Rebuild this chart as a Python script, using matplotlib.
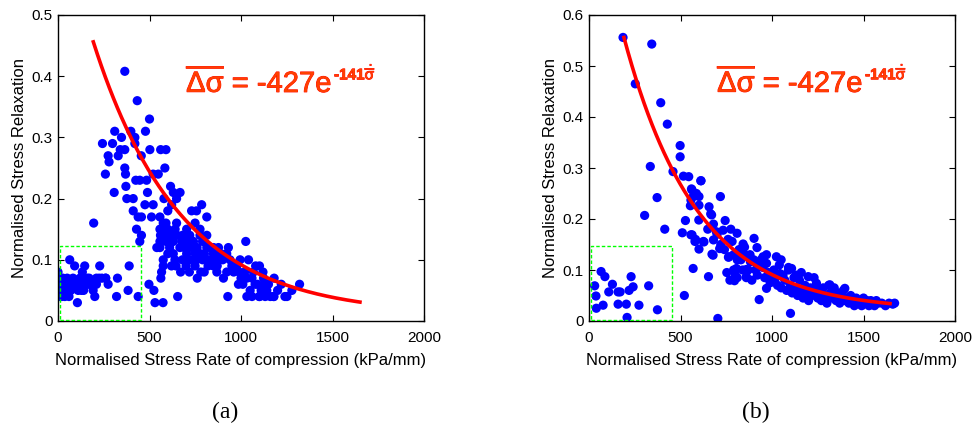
import matplotlib
matplotlib.use("Agg")
import matplotlib.pyplot as plt
import matplotlib.patheffects as pe
import numpy as np
from matplotlib.patches import Rectangle

plt.rcParams['font.family'] = ['Liberation Sans', 'DejaVu Sans']
plt.rcParams['mathtext.fontset'] = 'custom'
plt.rcParams['mathtext.rm'] = 'Liberation Sans'
plt.rcParams['mathtext.it'] = 'Liberation Sans'
plt.rcParams['mathtext.bf'] = 'Liberation Sans:bold'

# ---- panel (a) scatter ----
a_x = [365, 433, 500, 310, 398, 478, 243, 298, 420, 347, 420, 365, 340, 455, 274, 329, 279,
       502, 561, 590, 365, 369, 259, 584, 520, 548, 425, 447, 484, 371, 615, 307, 489, 630,
       667, 376, 411, 579, 648, 411, 475, 520, 621, 785, 438, 456, 511, 730, 757, 813, 195,
       557, 575, 648, 749, 429, 557, 593, 703, 776, 456, 621, 776, 813, 447, 557, 630, 676,
       703, 1026, 557, 666, 730, 813, 877, 931, 540, 630, 703, 776, 849, 922, 575, 639, 757,
       822, 995, 1041, 64, 575, 645, 749, 849, 977, 1101, 91, 146, 228, 389, 566, 718, 799,
       868, 922, 1068, 0, 133, 562, 761, 904, 1032, 1123, 1181, 325, 27, 82, 159, 225, 261,
       18, 55, 119, 173, 210, 274, 986, 1077, 1220, 1320, 497, 9, 46, 110, 192, 128, 524,
       1050, 1141, 1278, 9, 37, 201, 320, 383, 438, 654, 928, 1032, 1101, 1132, 1178, 1251,
       106, 530, 574,
       600, 610, 650, 690, 720, 740, 760, 790, 800, 830, 860, 880, 900, 950, 960, 1000, 1010,
       1060, 1090, 1110, 1150, 1160, 1200, 680, 700, 780, 820, 870, 720, 610, 640, 590, 580,
       600, 620, 670, 590, 560, 600, 680, 750, 790, 850, 890, 940, 990, 1020, 1080, 1120,
       1130, 1180, 1240, 1060, 1100,
       30, 50, 70, 100, 120, 150, 170, 190, 210, 240, 260, 20, 40, 60, 80, 140, 160]
a_y = [.408, .36, .33, .31, .31, .31, .29, .29, .30, .30, .29, .28, .28, .27, .27, .27, .26,
       .28, .28, .28, .25, .24, .24, .25, .24, .24, .23, .23, .23, .22, .22, .21, .21, .21,
       .21, .20, .20, .20, .20, .18, .19, .19, .19, .19, .17, .17, .17, .18, .18, .17, .16,
       .17, .16, .16, .16, .15, .15, .15, .15, .15, .14, .14, .14, .14, .13, .13, .13, .13,
       .13, .13, .12, .12, .12, .12, .12, .12, .12, .11, .11, .11, .11, .11, .10, .10, .10,
       .10, .10, .10, .10, .09, .09, .09, .09, .09, .09, .09, .09, .09, .09, .08, .08, .08,
       .08, .08, .08, .08, .08, .07, .07, .07, .07, .07, .07, .07, .07, .07, .07, .07, .07,
       .06, .06, .06, .06, .06, .06, .06, .06, .06, .06, .06, .05, .05, .05, .05, .05, .05,
       .05, .05, .05, .04, .04, .04, .04, .05, .04, .04, .04, .04, .04, .04, .04, .04,
       .03, .03, .03,
       .15, .13, .14, .12, .14, .13, .12, .13, .11, .12, .10, .11, .10, .09, .08, .07, .06,
       .07, .06, .05, .06, .04, .05, .10, .09, .08, .09, .09, .10, .12, .15, .13, .14,
       .11, .09, .08, .16, .14, .18, .14, .11, .10, .12, .11, .10, .08, .08, .09, .08,
       .06, .04, .04, .04, .04,
       .06, .07, .05, .06, .07, .06, .07, .06, .07, .07, .07, .04, .05, .04, .06, .05, .06]

# ---- panel (b) scatter ----
b_x = [186, 343, 253, 392, 428, 498, 498, 335, 459, 516, 611, 560, 587, 569, 372, 718, 656,
       554, 601, 304, 665, 527, 600, 744, 414, 649, 775, 510, 563, 696, 733, 809, 582, 680,
       782, 902, 842, 625, 601, 714, 918, 678, 762, 1024, 815, 882, 951, 970, 569, 753, 860,
       806, 653, 795, 860, 930, 521, 704, 1101, 970, 988, 1043, 1107, 1198, 1243, 1316, 1398,
       545, 612, 563, 557, 601, 670, 557, 579, 628, 672, 765, 770, 790, 800, 810,
       31, 38, 40, 66, 87, 128, 108, 159, 170, 159, 204, 208, 219, 241, 230, 273, 326, 374, 77,
       880, 900, 910, 920, 930, 950, 960, 980, 990, 1010, 1020, 1030, 1040, 1050, 1060, 1070,
       1080, 1090, 1100, 1110, 1120, 1130, 1140, 1150, 1160, 1170, 1180, 1190, 1200, 1210,
       1220, 1230, 1240, 1250, 1260, 1270, 1280, 1290, 1300, 1310, 1320, 1330, 1340, 1350,
       1360, 1370, 1380, 1390, 1400, 1410, 1420, 1430, 1440, 1450, 1460, 1470, 1480, 1490,
       1500, 1510, 1520, 1530, 1540, 1550, 1560, 1570, 1580, 1600, 1620, 1640, 1660, 1670,
       820, 830, 850, 870, 890, 860, 840, 810, 790, 760, 740, 720, 700, 680, 850, 940, 970,
       1050, 1090, 1130, 1160]
b_y = [.556, .543, .465, .428, .386, .344, .322, .303, .293, .284, .275, .259, .250, .244,
       .242, .244, .224, .226, .244, .207, .210, .197, .198, .197, .180, .180, .180, .173,
       .169, .175, .178, .172, .160, .159, .156, .162, .151, .156, .141, .142, .144, .129,
       .125, .126, .126, .116, .126, .113, .103, .095, .101, .103, .087, .079, .087, .042,
       .050, .005, .015, .064, .080, .093, .103, .087, .074, .071, .064,
       .283, .275, .257, .237, .227, .208, .169, .156, .155, .131, .126, .08, .10, .09, .085,
       .069, .049, .025, .097, .087, .072, .057, .057, .057, .033, .033, .007, .060, .067,
       .087, .031, .069, .022, .031,
       .13, .12, .10, .09, .115, .105, .085, .095, .075, .10, .085, .07, .11, .065, .09, .08,
       .06, .10, .07, .055, .085, .065, .05, .08, .06, .045, .07, .055, .04, .065,
       .05, .085, .06, .045, .055, .04, .065, .05, .035, .07, .055, .045, .065, .04,
       .055, .035, .05, .06, .04, .045, .035, .05, .04, .03, .045, .035, .04, .03,
       .045, .035, .04, .03, .04, .035, .03, .04, .035, .035, .03, .035, .033, .035,
       .14, .12, .13, .10, .08, .085, .10, .12, .13, .16, .14, .15, .17, .19, .145, .12, .13,
       .12, .105, .09, .095]

# exponential fit curves: y = A*exp(-k*x) + c
fit_a = dict(A=0.669, k=0.0021, c=0.01, x0=193, x1=1650)
fit_b = dict(A=0.864, k=0.0025, c=0.02, x0=191, x1=1645)

EQN_MAIN = r'$\overline{\Delta\sigma}$ = -427e'
EQN_SUP = r'-141$\dot{\overline{\sigma}}$'

xticks = [0, 500, 1000, 1500, 2000]
panels = [
    dict(x=a_x, y=a_y, fit=fit_a, ylim=0.5, yticks=[0, 0.1, 0.2, 0.3, 0.4, 0.5],
         box_h=0.1225, txt_y=0.374, left=58, tag='(a)'),
    dict(x=b_x, y=b_y, fit=fit_b, ylim=0.6, yticks=[0, 0.1, 0.2, 0.3, 0.4, 0.5, 0.6],
         box_h=0.147, txt_y=0.449, left=589, tag='(b)'),
]

W, H = 973, 437
fig = plt.figure(figsize=(W / 100, H / 100), dpi=100)
outline = [pe.withStroke(linewidth=0.6, foreground='#FF0000')]

for p in panels:
    ax = fig.add_axes([p['left'] / W, (H - 321) / H, 366 / W, 306 / H])
    ax.scatter(p['x'], p['y'], s=44, color='#0000FF', edgecolors='none', zorder=2)

    f = p['fit']
    xx = np.linspace(f['x0'], f['x1'], 200)
    ax.plot(xx, f['A'] * np.exp(-f['k'] * xx) + f['c'], color='#FF0000', lw=2.6, zorder=3)

    ax.add_patch(Rectangle((9, 0.002), 447, p['box_h'] - 0.002, fill=False,
                           edgecolor='#00FF00', lw=1.0, ls=(0, (2.5, 1.5)), zorder=4))

    t1 = ax.text(700, p['txt_y'], EQN_MAIN, color='#FF4000', fontsize=21, ha='left',
                 va='baseline', path_effects=outline)
    ax.annotate(EQN_SUP, xy=(1, 1), xycoords=t1, xytext=(1.5, 2.5), textcoords='offset points',
                ha='left', va='top', color='#FF4000', fontsize=11, fontweight='bold',
                path_effects=outline)

    ax.set_xlim(0, 2000)
    ax.set_ylim(0, p['ylim'])
    ax.set_xticks(xticks)
    ax.set_xticklabels([str(t) for t in xticks])
    ax.set_yticks(p['yticks'])
    ax.set_yticklabels(['0' if t == 0 else f'{t:.1f}' for t in p['yticks']])
    ax.tick_params(direction='in', top=True, right=True, length=4, width=0.8,
                   labelsize=11)
    ax.tick_params(axis='x', pad=7)
    ax.tick_params(axis='y', pad=4)
    for s in ax.spines.values():
        s.set_linewidth(1.0)
    ax.set_xlabel('Normalised Stress Rate of compression (kPa/mm)', fontsize=12, labelpad=6)
    ax.set_ylabel('Normalised Stress Relaxation', fontsize=12, labelpad=3)

    fig.text((p['left'] + 167) / W, (H - 412) / H, p['tag'], ha='center', va='center',
             fontsize=17, family='Liberation Serif')

fig.savefig('out.png', dpi=100)
